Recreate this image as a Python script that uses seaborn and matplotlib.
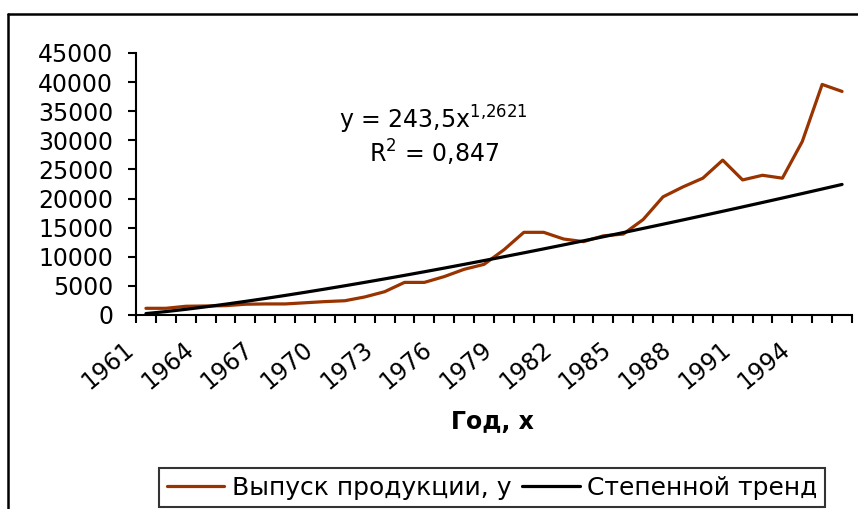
import matplotlib
matplotlib.use("Agg")
import matplotlib.pyplot as plt
import matplotlib.transforms as mtransforms
from matplotlib.lines import Line2D
import numpy as np
import pandas as pd
import seaborn as sns

years = list(range(1961, 1997))
output = [
    1150, 1150, 1500, 1550, 1600, 1850, 1900, 1900, 2100, 2300,
    2450, 3100, 4000, 5600, 5600, 6600, 7850, 8700, 11200, 14200,
    14200, 13050, 12600, 13600, 13900, 16400, 20300, 22000, 23500, 26600,
    23200, 24000, 23500, 29800, 39600, 38400,
]
# power trend shown on the chart: y = 243,5 x^1,2621
trend_a = 243.5
trend_b = 1.2621
tick_years = list(range(1961, 1995, 3))

sns.set_style("white")
plt.rcParams["font.family"] = ["DejaVu Sans"]
for key in ["text.color", "axes.labelcolor", "xtick.color", "ytick.color"]:
    plt.rcParams[key] = "black"
fs = 17

df = pd.DataFrame({"year": years, "output": output})
df["idx"] = np.arange(len(df))
df["trend"] = trend_a * (df["idx"] + 1) ** trend_b

fig = plt.figure(figsize=(8.58, 5.09), dpi=100)
ax = fig.add_axes([136 / 858, 1 - 315 / 509, (852 - 136) / 858, (315 - 53) / 509])

brown = "#993300"
sns.lineplot(data=df, x="idx", y="output", color=brown, lw=2.3, ax=ax,
             label="Выпуск продукции, у")
sns.lineplot(data=df, x="idx", y="trend", color="black", lw=2.3, ax=ax,
             label="Степенной тренд")

ax.set_xlim(-0.5, len(years) - 0.5)
ax.set_ylim(0, 45000)
ax.set_yticks(np.arange(0, 45001, 5000))
ax.tick_params(axis="y", labelsize=fs, length=6, width=1.5, direction="out",
               pad=10.5, left=True)

ax.set_xticks([years.index(y) for y in tick_years])
ax.set_xticklabels([str(y) for y in tick_years])
ax.set_xticks(np.arange(-0.5, len(years), 1), minor=True)
ax.tick_params(axis="x", which="major", length=0, labelsize=fs, pad=0)
ax.tick_params(axis="x", which="minor", length=6, width=1.5, direction="out",
               bottom=True)
offset = mtransforms.ScaledTranslation(-15 / 100, -31 / 100, fig.dpi_scale_trans)
for lbl in ax.get_xticklabels():
    lbl.set_rotation(40)
    lbl.set_ha("right")
    lbl.set_va("center")
    lbl.set_rotation_mode("anchor")
    lbl.set_transform(lbl.get_transform() + offset)

for side in ["top", "right"]:
    ax.spines[side].set_visible(False)
for side in ["left", "bottom"]:
    ax.spines[side].set_color("black")
    ax.spines[side].set_linewidth(1.5)
ax.set_xlabel("")
ax.set_ylabel("")

ax.text(433 / 858, 1 - 120 / 509, "y = 243,5x$^{1{,}2621}$", transform=fig.transFigure,
        ha="center", va="center", fontsize=fs)
ax.text(434 / 858, 1 - 153 / 509, "R$^2$ = 0,847", transform=fig.transFigure,
        ha="center", va="center", fontsize=fs)

fig.text(492 / 858, 1 - 422 / 509, "Год, х", ha="center", va="center",
         fontsize=fs, fontweight="bold")

ax.legend_.remove()
handles = [Line2D([], [], color=brown, lw=2.3), Line2D([], [], color="black", lw=2.3)]
leg = fig.legend(handles, ["Выпуск продукции, у", "Степенной тренд"],
                 loc="lower center", bbox_to_anchor=(492 / 858, 2 / 509), ncol=2,
                 fontsize=18, frameon=True, fancybox=False, edgecolor="black",
                 handlelength=2.3, handletextpad=0.3, columnspacing=0.45,
                 borderpad=0.3, borderaxespad=0)
leg.get_frame().set_linewidth(1.5)

# outer chart frame (only left and top edges visible in the crop)
fig.add_artist(Line2D([8 / 858, 8 / 858], [-0.1, 1 - 14 / 509], color="black",
                      lw=1.8, transform=fig.transFigure))
fig.add_artist(Line2D([8 / 858, 1.1], [1 - 14 / 509, 1 - 14 / 509], color="black",
                      lw=1.8, transform=fig.transFigure))

fig.savefig("out.png", dpi=100)
